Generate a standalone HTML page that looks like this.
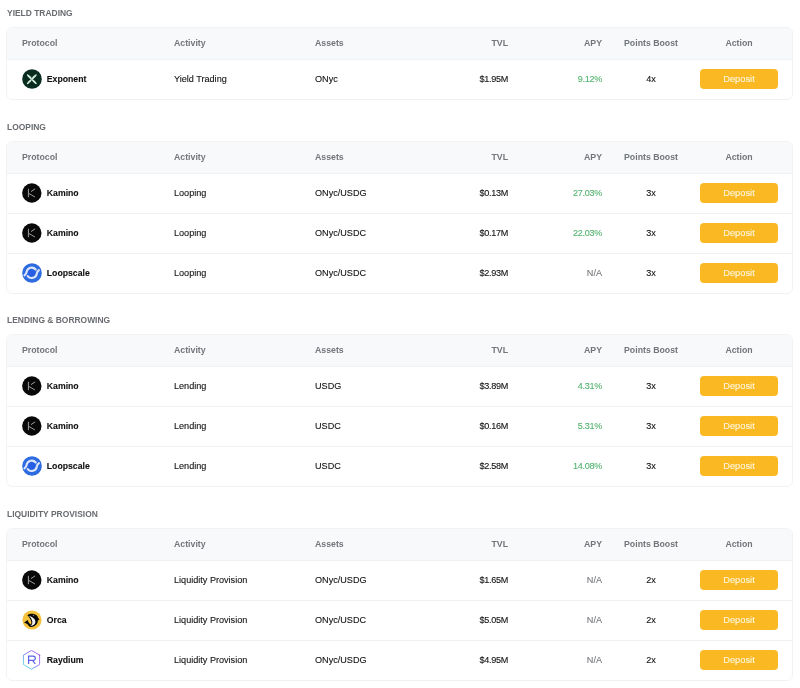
<!DOCTYPE html><html><head><meta charset="utf-8"><style>
*{box-sizing:border-box;margin:0;padding:0}
html,body{width:800px;height:688px;background:#fff;overflow:hidden;position:relative;font-family:"Liberation Sans",sans-serif}
.wrap{position:absolute;left:0;top:0;width:800px;height:688px;will-change:transform}
.t{position:absolute;left:7px;font-size:8.45px;font-weight:700;color:#696c70;line-height:10px;white-space:nowrap}
.tb{position:absolute;left:6px;width:787px;border:1px solid #f1f2f4;border-radius:6px;overflow:hidden;background:#fff}
.h{position:absolute;left:0;top:0;width:100%;height:32px;background:#f8f9fb;border-bottom:1px solid #f1f2f4}
.r{position:absolute;left:0;width:100%;height:40px;border-bottom:1px solid #f1f2f4}
.r.last{border-bottom:none}
.c{position:absolute;top:0;height:100%;display:flex;align-items:center;white-space:nowrap}
.h .c{padding-bottom:2px;font-size:8.75px;font-weight:700;color:#72757a}
.r .c{padding-bottom:2px;font-size:9.1px;color:#101113;-webkit-text-stroke:0.1px currentColor}
.c1{left:15px}
.c2{left:167px}
.c3{left:308px}
.c4{right:284px;justify-content:flex-end}
.c5{right:190px;justify-content:flex-end}
.r .c4,.r .c5{letter-spacing:-0.3px}
.c6{left:624px;width:40px;justify-content:center}
.c7{left:693px;width:78px;justify-content:center}
.ic{width:20px;height:20px;margin-right:4.8px;display:block}
.ic svg{display:block}
.nm{font-weight:700;font-size:8.7px}
.r .c.g{color:#50b26c}
.r .c.na{color:#74777b;letter-spacing:0}
.btn{width:78px;height:20px;border-radius:4px;background:#fab923;color:#fff6dd;font-size:9.3px;display:flex;align-items:center;justify-content:center}
</style></head><body><div class="wrap"><div class="t" style="top:8px">YIELD TRADING</div><div class="tb" style="top:27px;height:73px"><div class="h"><div class="c c1">Protocol</div><div class="c c2">Activity</div><div class="c c3">Assets</div><div class="c c4">TVL</div><div class="c c5">APY</div><div class="c c6">Points Boost</div><div class="c c7">Action</div></div><div class="r last" style="top:32px"><div class="c c1"><span class="ic"><svg width="20" height="20" viewBox="0 0 20 20"><circle cx="10" cy="10" r="9.8" fill="#092b20"/><g fill="#d5ecdd" transform="translate(9.8 10.2)"><ellipse cx="0" cy="-3.4" rx="0.95" ry="3.4" transform="rotate(-45)"/><ellipse cx="0" cy="-3.4" rx="0.95" ry="3.4" transform="rotate(45)"/><ellipse cx="0" cy="-3.4" rx="0.95" ry="3.4" transform="rotate(135)"/><ellipse cx="0" cy="-3.4" rx="0.95" ry="3.4" transform="rotate(-135)"/></g></svg></span><span class="nm">Exponent</span></div><div class="c c2">Yield Trading</div><div class="c c3">ONyc</div><div class="c c4">$1.95M</div><div class="c c5 g">9.12%</div><div class="c c6">4x</div><div class="c c7"><span class="btn">Deposit</span></div></div></div><div class="t" style="top:122px">LOOPING</div><div class="tb" style="top:141px;height:153px"><div class="h"><div class="c c1">Protocol</div><div class="c c2">Activity</div><div class="c c3">Assets</div><div class="c c4">TVL</div><div class="c c5">APY</div><div class="c c6">Points Boost</div><div class="c c7">Action</div></div><div class="r" style="top:32px"><div class="c c1"><span class="ic"><svg width="20" height="20" viewBox="0 0 20 20"><circle cx="9.8" cy="10" r="9.7" fill="#080808"/><path d="M6.4 6.2 V13.8 M7.1 10.6 L12.6 13.8 M9.3 8.4 L12.8 6.1" stroke="#d0d0d0" stroke-width="0.75" fill="none" stroke-linecap="round"/></svg></span><span class="nm">Kamino</span></div><div class="c c2">Looping</div><div class="c c3">ONyc/USDG</div><div class="c c4">$0.13M</div><div class="c c5 g">27.03%</div><div class="c c6">3x</div><div class="c c7"><span class="btn">Deposit</span></div></div><div class="r" style="top:72px"><div class="c c1"><span class="ic"><svg width="20" height="20" viewBox="0 0 20 20"><circle cx="9.8" cy="10" r="9.7" fill="#080808"/><path d="M6.4 6.2 V13.8 M7.1 10.6 L12.6 13.8 M9.3 8.4 L12.8 6.1" stroke="#d0d0d0" stroke-width="0.75" fill="none" stroke-linecap="round"/></svg></span><span class="nm">Kamino</span></div><div class="c c2">Looping</div><div class="c c3">ONyc/USDC</div><div class="c c4">$0.17M</div><div class="c c5 g">22.03%</div><div class="c c6">3x</div><div class="c c7"><span class="btn">Deposit</span></div></div><div class="r last" style="top:112px"><div class="c c1"><span class="ic"><svg width="20" height="20" viewBox="0 0 20 20"><circle cx="10" cy="10" r="9.8" fill="#2c6be0"/><circle cx="9.7" cy="9.8" r="3.4" fill="#285ee4"/><path d="M13.7 6.5 A5.2 5.2 0 0 0 4.6 8.9 C4.4 10.4 3.6 11.6 2.5 12.4 M5.7 13.1 A5.2 5.2 0 0 0 14.8 10.7 C15.0 9.2 15.8 8.0 16.9 7.2" stroke="#dfe6fa" stroke-width="2.1" fill="none" stroke-linecap="round"/></svg></span><span class="nm">Loopscale</span></div><div class="c c2">Looping</div><div class="c c3">ONyc/USDC</div><div class="c c4">$2.93M</div><div class="c c5 na">N/A</div><div class="c c6">3x</div><div class="c c7"><span class="btn">Deposit</span></div></div></div><div class="t" style="top:315px">LENDING &amp; BORROWING</div><div class="tb" style="top:334px;height:153px"><div class="h"><div class="c c1">Protocol</div><div class="c c2">Activity</div><div class="c c3">Assets</div><div class="c c4">TVL</div><div class="c c5">APY</div><div class="c c6">Points Boost</div><div class="c c7">Action</div></div><div class="r" style="top:32px"><div class="c c1"><span class="ic"><svg width="20" height="20" viewBox="0 0 20 20"><circle cx="9.8" cy="10" r="9.7" fill="#080808"/><path d="M6.4 6.2 V13.8 M7.1 10.6 L12.6 13.8 M9.3 8.4 L12.8 6.1" stroke="#d0d0d0" stroke-width="0.75" fill="none" stroke-linecap="round"/></svg></span><span class="nm">Kamino</span></div><div class="c c2">Lending</div><div class="c c3">USDG</div><div class="c c4">$3.89M</div><div class="c c5 g">4.31%</div><div class="c c6">3x</div><div class="c c7"><span class="btn">Deposit</span></div></div><div class="r" style="top:72px"><div class="c c1"><span class="ic"><svg width="20" height="20" viewBox="0 0 20 20"><circle cx="9.8" cy="10" r="9.7" fill="#080808"/><path d="M6.4 6.2 V13.8 M7.1 10.6 L12.6 13.8 M9.3 8.4 L12.8 6.1" stroke="#d0d0d0" stroke-width="0.75" fill="none" stroke-linecap="round"/></svg></span><span class="nm">Kamino</span></div><div class="c c2">Lending</div><div class="c c3">USDC</div><div class="c c4">$0.16M</div><div class="c c5 g">5.31%</div><div class="c c6">3x</div><div class="c c7"><span class="btn">Deposit</span></div></div><div class="r last" style="top:112px"><div class="c c1"><span class="ic"><svg width="20" height="20" viewBox="0 0 20 20"><circle cx="10" cy="10" r="9.8" fill="#2c6be0"/><circle cx="9.7" cy="9.8" r="3.4" fill="#285ee4"/><path d="M13.7 6.5 A5.2 5.2 0 0 0 4.6 8.9 C4.4 10.4 3.6 11.6 2.5 12.4 M5.7 13.1 A5.2 5.2 0 0 0 14.8 10.7 C15.0 9.2 15.8 8.0 16.9 7.2" stroke="#dfe6fa" stroke-width="2.1" fill="none" stroke-linecap="round"/></svg></span><span class="nm">Loopscale</span></div><div class="c c2">Lending</div><div class="c c3">USDC</div><div class="c c4">$2.58M</div><div class="c c5 g">14.08%</div><div class="c c6">3x</div><div class="c c7"><span class="btn">Deposit</span></div></div></div><div class="t" style="top:509px">LIQUIDITY PROVISION</div><div class="tb" style="top:528px;height:153px"><div class="h"><div class="c c1">Protocol</div><div class="c c2">Activity</div><div class="c c3">Assets</div><div class="c c4">TVL</div><div class="c c5">APY</div><div class="c c6">Points Boost</div><div class="c c7">Action</div></div><div class="r" style="top:32px"><div class="c c1"><span class="ic"><svg width="20" height="20" viewBox="0 0 20 20"><circle cx="9.8" cy="10" r="9.7" fill="#080808"/><path d="M6.4 6.2 V13.8 M7.1 10.6 L12.6 13.8 M9.3 8.4 L12.8 6.1" stroke="#d0d0d0" stroke-width="0.75" fill="none" stroke-linecap="round"/></svg></span><span class="nm">Kamino</span></div><div class="c c2">Liquidity Provision</div><div class="c c3">ONyc/USDG</div><div class="c c4">$1.65M</div><div class="c c5 na">N/A</div><div class="c c6">2x</div><div class="c c7"><span class="btn">Deposit</span></div></div><div class="r" style="top:72px"><div class="c c1"><span class="ic"><svg width="20" height="20" viewBox="0 0 20 20"><circle cx="10" cy="10" r="9.6" fill="#f5c23c"/><path d="M5.4 5.2 C6.8 3.6 12.2 3.0 14.8 5.6 C15.6 6.4 16.0 7.4 16.2 8.0 L17.5 9.3 L15.9 10.5 C15.8 13.8 13.4 16.6 9.4 16.9 C8.4 16.9 7.6 16.6 7.0 16.2 C8.6 15.4 9.4 14.0 9.4 12.6 C9.4 10.2 7.6 7.6 5.4 5.2 Z" fill="#0a0a0a"/><path d="M2.0 12.4 L5.8 9.9 C6.0 11.4 6.6 12.6 7.6 13.6 L9.2 14.9 L7.4 16.4 C6.6 15.8 5.8 14.8 5.2 13.9 Z" fill="#0a0a0a"/><path d="M7.0 6.0 C10.0 6.6 13.2 8.6 13.4 11.6 C13.6 14.2 11.6 15.8 8.6 16.0 C10.0 14.8 10.6 13.2 10.3 11.6 C10.0 9.6 8.8 7.4 7.0 6.0 Z" fill="#f2f2f2"/><circle cx="11.4" cy="5.4" r="0.6" fill="#8a8a8a"/></svg></span><span class="nm">Orca</span></div><div class="c c2">Liquidity Provision</div><div class="c c3">ONyc/USDC</div><div class="c c4">$5.05M</div><div class="c c5 na">N/A</div><div class="c c6">2x</div><div class="c c7"><span class="btn">Deposit</span></div></div><div class="r last" style="top:112px"><div class="c c1"><span class="ic"><svg width="20" height="20" viewBox="0 0 20 20"><defs><linearGradient id="rg" x1="0.1" y1="0.9" x2="0.9" y2="0.1"><stop offset="0" stop-color="#62dfe8"/><stop offset="0.45" stop-color="#7a86ee"/><stop offset="1" stop-color="#b95cf0"/></linearGradient></defs><path d="M9.5 0.4 L17.6 5.1 V14.5 L9.5 19.2 L1.4 14.5 V5.1 Z" fill="none" stroke="url(#rg)" stroke-width="0.95"/><path d="M6.6 14.0 V6.2 H11.2 C12.5 6.2 13.3 7.1 13.3 8.3 C13.3 9.5 12.5 10.4 11.2 10.4 H7.2 M10.8 10.6 L13.2 14.0" fill="none" stroke="#5a63e8" stroke-width="1.2"/><circle cx="17.6" cy="5.2" r="0.7" fill="#8a4fd8"/></svg></span><span class="nm">Raydium</span></div><div class="c c2">Liquidity Provision</div><div class="c c3">ONyc/USDG</div><div class="c c4">$4.95M</div><div class="c c5 na">N/A</div><div class="c c6">2x</div><div class="c c7"><span class="btn">Deposit</span></div></div></div></div></body></html>
